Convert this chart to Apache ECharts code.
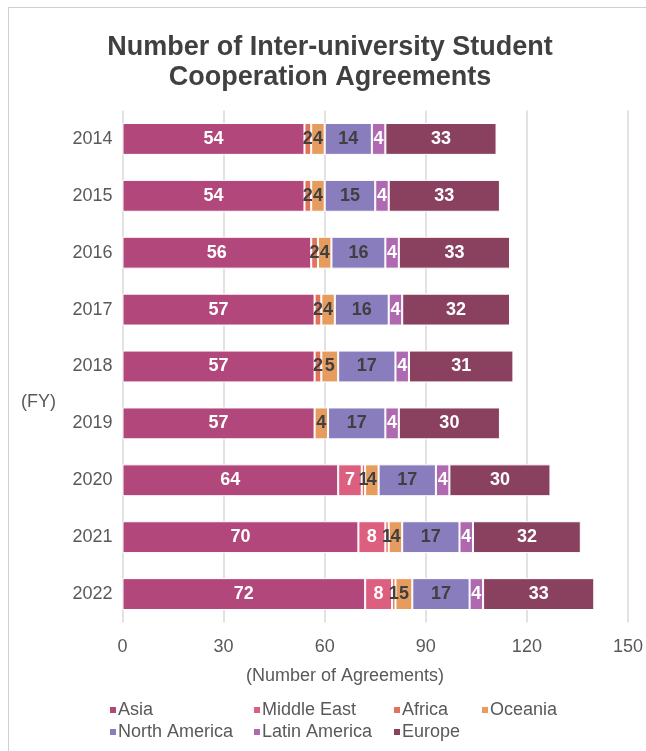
<!DOCTYPE html>
<html>
<head>
<meta charset="utf-8">
<style>html,body{margin:0;padding:0;background:#fff;}#c{width:646px;height:751px;}</style>
<script src="https://cdn.jsdelivr.net/npm/echarts@6/dist/echarts.min.js"></script>
</head>
<body>
<div id="c"></div>
<script>
const years = ['2014','2015','2016','2017','2018','2019','2020','2021','2022'];
const regions = ['Asia','Middle East','Africa','Oceania','North America','Latin America','Europe'];
const asia         = [54, 54, 56, 57, 57, 57, 64, 70, 72];
const middleEast   = [0, 0, 0, 0, 0, 0, 7, 8, 8];
const africa       = [2, 2, 2, 2, 2, 0, 1, 1, 1];
const oceania      = [4, 4, 4, 4, 5, 4, 4, 4, 5];
const northAmerica = [14, 15, 16, 16, 17, 17, 17, 17, 17];
const latinAmerica = [4, 4, 4, 4, 4, 4, 4, 4, 4];
const europe       = [33, 33, 33, 32, 31, 30, 30, 32, 33];
const xTicks = [0, 30, 60, 90, 120, 150];

const values = [asia, middleEast, africa, oceania, northAmerica, latinAmerica, europe];
const colors = ['#b1477a','#dc5f80','#e2735b','#e69b5f','#897dbd','#ae69b0','#8a405f'];
const labelColors = ['#ffffff','#ffffff','#404040','#404040','#404040','#ffffff','#ffffff'];
const legendPos = [[108,701],[252,701],[392,701],[480,701],[108,723],[252,723],[392,723]];
const FONT = 'Liberation Sans, Arial, sans-serif';

const chart = echarts.init(document.getElementById('c'), null, {renderer:'canvas'});
const series = regions.map((name, i) => ({
  name: name,
  type: 'bar',
  stack: 'total',
  barCategoryGap: '44%',
  data: values[i].map(v => v === 0 ? null : v),
  itemStyle: { color: colors[i], borderColor: '#ffffff', borderWidth: 1 },
  label: {
    show: true,
    position: 'inside',
    color: labelColors[i],
    fontFamily: FONT,
    fontWeight: 'bold',
    fontSize: 18,
    formatter: p => (p.value ? String(p.value) : '')
  },
  emphasis: { disabled: true }
}));

const legends = regions.map((name, i) => ({
  data: [name],
  left: legendPos[i][0],
  top: legendPos[i][1],
  icon: 'rect',
  itemWidth: 8,
  itemHeight: 8,
  itemGap: 0,
  padding: 0,
  textStyle: { color: '#595959', fontSize: 18, fontFamily: FONT, padding: [0,0,0,-4] },
  selectedMode: false
}));

chart.setOption({
  animation: false,
  backgroundColor: '#ffffff',
  textStyle: { fontFamily: FONT },
  legend: legends,
  grid: { left: 122.5, right: 17, top: 110.5, bottom: 128.5, containLabel: false },
  xAxis: {
    type: 'value',
    min: 0, max: 150, interval: 30,
    axisLine: { show: false },
    axisTick: { show: false },
    splitLine: { show: true, lineStyle: { color: '#d9d9d9', width: 1.5 } },
    axisLabel: { color: '#595959', fontSize: 18, fontFamily: FONT, margin: 16,
      formatter: v => xTicks.includes(v) ? String(v) : '' }
  },
  yAxis: {
    type: 'category',
    data: years,
    inverse: true,
    axisLine: { show: false },
    axisTick: { show: false },
    axisLabel: { color: '#595959', fontSize: 18, fontFamily: FONT, margin: 10 }
  },
  graphic: [
    { type: 'rect', shape: { x: 8.5, y: 7.5, width: 700, height: 800 }, style: { fill: 'none', stroke: '#d0d0d0', lineWidth: 1 }, silent: true, z: -1 },
    { type: 'text', x: 330, y: 48, style: { text: 'Number of Inter-university Student', fill: '#404040', font: 'bold 27px ' + FONT, textAlign: 'center', textVerticalAlign: 'middle' } },
    { type: 'text', x: 330, y: 78, style: { text: 'Cooperation Agreements', fill: '#404040', font: 'bold 27px ' + FONT, textAlign: 'center', textVerticalAlign: 'middle' } },
    { type: 'text', left: 21, top: 393, style: { text: '(FY)', fill: '#595959', font: '18px ' + FONT } },
    { type: 'text', x: 345, y: 676, style: { text: '(Number of Agreements)', fill: '#595959', font: '18px ' + FONT, textAlign: 'center', textVerticalAlign: 'middle' } }
  ],
  series: series
});
</script>
</body>
</html>
